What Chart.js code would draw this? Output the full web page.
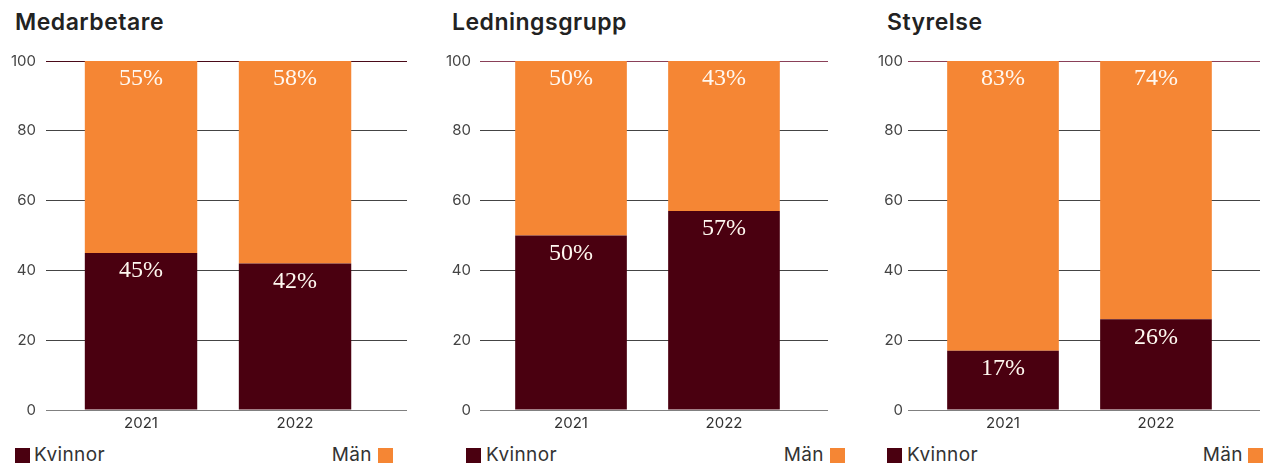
<!DOCTYPE html>
<html>
<head>
<meta charset="utf-8">
<script src="https://cdn.jsdelivr.net/npm/chart.js@4.4.1/dist/chart.umd.min.js"></script>
<style>
  body { margin: 0; background: #fff; width: 1264px; height: 466px; position: relative; overflow: hidden; font-family: Inter, "Noto Sans", sans-serif; }
  .panel { position: absolute; top: 0; height: 440px; }
  .title { position: absolute; top: 10px; font-size: 23px; font-weight: 600; letter-spacing: 0.5px; color: #222; line-height: 24px; }
  .legend { position: absolute; top: 445px; height: 20px; display: flex; justify-content: space-between; align-items: center; font-size: 19px; letter-spacing: 0.4px; color: #333; line-height: 20px; }
  .legend span.item { display: flex; align-items: center; }
  .sw { display: inline-block; width: 15px; height: 15px; }
</style>
</head>
<body>
<div class="title" style="left:15px">Medarbetare</div>
<div class="title" style="left:452px">Ledningsgrupp</div>
<div class="title" style="left:887px">Styrelse</div>

<div class="panel" style="left:0px;width:410px"><canvas id="c1"></canvas></div>
<div class="panel" style="left:437px;width:395px"><canvas id="c2"></canvas></div>
<div class="panel" style="left:872px;width:392px"><canvas id="c3"></canvas></div>

<div class="legend" style="left:15px;width:378px"><span class="item"><i class="sw" style="background:#4A0010;margin-right:4px"></i>Kvinnor</span><span class="item">Män<i class="sw" style="background:#F58634;margin-left:6px"></i></span></div>
<div class="legend" style="left:466px;width:379px"><span class="item"><i class="sw" style="background:#4A0010;margin-right:5px"></i>Kvinnor</span><span class="item">Män<i class="sw" style="background:#F58634;margin-left:6px"></i></span></div>
<div class="legend" style="left:887px;width:376px"><span class="item"><i class="sw" style="background:#4A0010;margin-right:5px"></i>Kvinnor</span><span class="item">Män<i class="sw" style="background:#F58634;margin-left:5px"></i></span></div>

<script>
const YEARS = ["2021", "2022"];
const Y_TICKS = [0, 20, 40, 60, 80, 100];

const KVINNOR_MEDARBETARE = [45, 42];
const MAN_MEDARBETARE = [55, 58];
const KVINNOR_LEDNING = [50, 57];
const MAN_LEDNING = [50, 43];
const KVINNOR_STYRELSE = [17, 26];
const MAN_STYRELSE = [83, 74];

const MAROON = "#4A0010";
const ORANGE = "#F58634";

// white % labels near the top of each segment
const segmentLabels = {
  id: "segmentLabels",
  afterDatasetsDraw(chart) {
    const ctx = chart.ctx;
    ctx.save();
    ctx.fillStyle = "#fff8f0";
    ctx.font = "24px 'Liberation Serif', serif";
    ctx.textAlign = "center";
    ctx.textBaseline = "middle";
    chart.data.datasets.forEach((ds, di) => {
      chart.getDatasetMeta(di).data.forEach((el, i) => {
        ctx.fillText(`${ds.data[i]}%`, el.x, el.y + 18);
      });
    });
    ctx.restore();
  }
};

function panelChart(id, kvinnor, man, o) {
  return new Chart(document.getElementById(id), {
    type: "bar",
    data: {
      labels: YEARS,
      datasets: [
        { label: "Kvinnor", data: kvinnor, backgroundColor: MAROON },
        { label: "Män", data: man, backgroundColor: ORANGE }
      ]
    },
    plugins: [segmentLabels],
    options: {
      responsive: true,
      maintainAspectRatio: false,
      animation: false,
      barPercentage: 0.73,
      categoryPercentage: 1,
      layout: { padding: { left: 0, right: o.padR, top: 61, bottom: 0 } },
      plugins: {
        legend: { display: false },
        tooltip: { enabled: false },
        title: { display: false }
      },
      scales: {
        x: {
          type: "linear",
          stacked: true,
          offset: false,
          min: o.xmin,
          max: o.xmax,
          border: { display: false },
          grid: { display: false, drawTicks: false, offset: false },
          afterFit: (s) => { s.height = 30; },
          ticks: {
            stepSize: 1,
            includeBounds: false,
            autoSkip: false,
            maxRotation: 0,
            padding: 4,
            color: "#333",
            font: { family: "Inter", size: 15 },
            callback: (v) => (YEARS.includes(String(v)) ? String(v) : "")
          }
        },
        y: {
          stacked: true,
          min: 0,
          max: 100,
          border: { display: false },
          afterFit: (s) => { s.width = o.yw; },
          afterBuildTicks: (s) => { s.ticks = Y_TICKS.map(v => ({ value: v })); },
          grid: {
            drawTicks: false,
            lineWidth: 1,
            color: (c) => c.tick.value === 100 ? o.topColor : (c.tick.value === 0 ? "#808080" : "#444")
          },
          ticks: {
            padding: o.tickPad,
            color: "#444",
            font: { family: "Inter", size: 15 }
          }
        }
      }
    }
  });
}

panelChart("c1", KVINNOR_MEDARBETARE, MAN_MEDARBETARE,
  { padR: 3, yw: 46, tickPad: 10, xmin: 2020.383, xmax: 2022.727, topColor: "#4a0a18" });
panelChart("c2", KVINNOR_LEDNING, MAN_LEDNING,
  { padR: 4, yw: 43, tickPad: 9, xmin: 2020.405, xmax: 2022.68, topColor: "#8a4058" });
panelChart("c3", KVINNOR_STYRELSE, MAN_STYRELSE,
  { padR: 4, yw: 36, tickPad: 5, xmin: 2020.379, xmax: 2022.68, topColor: "#8a4058" });
</script>
</body>
</html>
